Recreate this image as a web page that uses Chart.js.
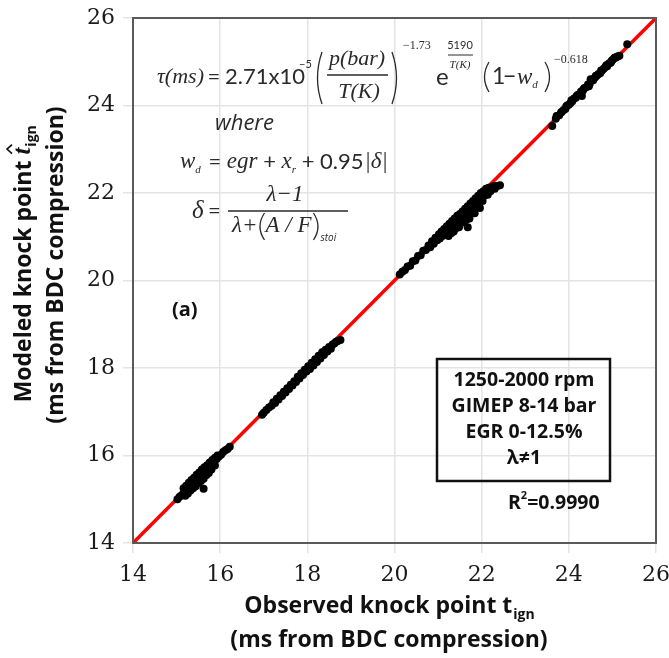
<!DOCTYPE html>
<html>
<head>
<meta charset="utf-8">
<script src="https://cdn.jsdelivr.net/npm/chart.js@4/dist/chart.umd.min.js"></script>
<style>
  body { margin: 0; background: #fff; }
  canvas { display: block; }
</style>
</head>
<body>
<canvas id="myChart" width="669" height="658"></canvas>
<script>
// axis ticks
const tickVals = [14, 16, 18, 20, 22, 24, 26];

// 1:1 reference line
const lineX = [14, 26];
const lineY = [14, 26];

// observed / modeled knock point, one pair of arrays per group of runs
const obsA = [15.02,15.07,15.12,15.17,15.22,15.27,15.32,15.37,15.42,15.47,15.52,15.57,15.62,
              15.67,15.72,15.77,15.82,15.87,15.92,15.97,16.02,16.07,16.12,16.17,16.22,
              15.16,15.22,15.28,15.34,15.40,15.46,15.52,15.58,15.64,15.70,15.76,15.82,15.88,15.94,
              15.20,15.26,15.32,15.38,15.44,15.50,15.56,15.62,15.68,15.74,15.80,15.88,
              15.62];
const modA = [15.00,15.06,15.10,15.16,15.22,15.26,15.33,15.36,15.42,15.46,15.53,15.56,15.61,
              15.68,15.71,15.78,15.81,15.88,15.92,15.98,16.02,16.08,16.12,16.15,16.20,
              15.25,15.31,15.38,15.44,15.49,15.56,15.61,15.68,15.73,15.78,15.84,15.90,15.95,16.00,
              15.08,15.13,15.20,15.25,15.30,15.37,15.42,15.47,15.55,15.60,15.68,15.77,
              15.24];

const obsB = [16.96,17.00,17.06,17.12,17.18,17.22,17.26,17.30,17.34,17.38,
              17.42,17.46,17.50,17.54,17.58,17.62,17.66,17.70,17.74,17.78,
              17.82,17.86,17.90,17.94,17.98,18.02,18.06,18.10,18.14,18.18,
              18.22,18.26,18.30,18.34,18.38,18.42,18.46,18.50,18.54,18.58,
              18.62,18.66,18.70,18.76];
const modB = [16.93,16.98,17.04,17.10,17.14,17.22,17.20,17.30,17.28,17.38,
              17.36,17.46,17.44,17.54,17.52,17.62,17.60,17.70,17.68,17.80,
              17.76,17.88,17.84,17.96,17.92,18.04,17.98,18.12,18.06,18.20,
              18.14,18.28,18.22,18.36,18.30,18.42,18.38,18.48,18.44,18.54,
              18.56,18.60,18.62,18.64];

const obsC = [20.12,20.18,20.24,20.30,20.36,20.42,20.48,20.54,20.60,20.66,
              20.72,20.78,20.82,20.86,20.90,20.94,20.98,21.02,21.04,21.08,
              21.10,21.14,21.16,21.20,21.22,21.24,21.26,21.28,21.32,21.34,
              21.36,21.38,21.40,21.44,21.46,21.48,21.50,21.52,21.56,21.58,
              21.60,21.62,21.64,21.68,21.68,21.70,21.72,21.74,21.76,21.80,
              21.82,21.84,21.86,21.88,21.92,21.94,21.96,21.98,22.00,22.04,
              22.06,22.10,22.12,22.16,22.20,22.24,22.30,22.36,22.42,
              21.20,21.26,21.32,21.38,21.44,21.50,21.56,21.62,21.68,21.74,
              21.80,21.86,21.92,21.98,22.04,22.10,22.16,22.22,22.28,
              21.30,21.42,21.54,21.66,21.78,21.90,22.02,22.14];
const modC = [20.14,20.20,20.24,20.32,20.34,20.44,20.46,20.56,20.58,20.68,
              20.70,20.80,20.76,20.90,20.84,20.98,20.92,21.06,20.96,21.12,
              21.02,21.18,21.06,21.24,21.12,21.02,21.30,21.18,21.36,21.22,
              21.12,21.42,21.30,21.48,21.34,21.22,21.52,21.42,21.58,21.46,
              21.34,21.64,21.52,21.70,21.22,21.58,21.42,21.76,21.64,21.82,
              21.70,21.54,21.88,21.78,21.94,21.82,21.66,22.00,21.88,22.04,
              21.94,22.10,21.98,22.12,22.04,22.14,22.10,22.16,22.18,
              21.14,21.16,21.26,21.28,21.38,21.40,21.48,21.52,21.60,21.66,
              21.72,21.76,21.84,21.90,21.96,22.02,22.06,22.12,22.16,
              21.08,21.20,21.32,21.40,21.56,21.70,21.82,21.96];

const obsD = [23.62,23.70,23.74,23.78,23.84,23.88,23.92,23.96,24.00,24.04,
              24.08,24.12,24.16,24.20,24.24,24.28,24.30,24.32,24.36,24.40,
              24.44,24.48,24.50,24.52,24.56,24.60,24.64,24.68,24.72,24.76,
              24.80,24.84,24.88,24.92,24.96,25.00,25.04,25.08,25.12,25.16,
              23.72,23.82,23.94,24.06,24.18,24.34,24.46,24.62,24.74,24.86,
              24.98,25.06,25.34];
const modD = [23.53,23.70,23.76,23.78,23.86,23.90,23.92,24.00,24.02,24.06,
              24.10,24.16,24.18,24.24,24.26,24.32,24.22,24.34,24.40,24.42,
              24.48,24.50,24.60,24.58,24.58,24.64,24.68,24.72,24.74,24.80,
              24.84,24.88,24.90,24.96,24.98,25.04,25.08,25.10,25.12,25.14,
              23.76,23.84,23.98,24.12,24.22,24.38,24.44,24.68,24.80,24.92,
              25.02,25.10,25.40];

function pairs(xs, ys){
    var out = [];
    for(var i = 0; i < xs.length; i++){
        out.push({x: xs[i], y: ys[i]});
    }
    return out;
}

const points = pairs(obsA, modA).concat(pairs(obsB, modB), pairs(obsC, modC), pairs(obsD, modD));

// small text helper, returns the x where the text ends
function txt(ctx, s, x, y, font, align){
    ctx.font = font;
    ctx.textAlign = align || 'left';
    ctx.textBaseline = 'middle';
    ctx.fillText(s, x, y);
    if(align === 'center') return x + ctx.measureText(s).width / 2;
    if(align === 'right') return x;
    return x + ctx.measureText(s).width;
}

function paren(ctx, x, top, bot, left){
    var mid = (top + bot) / 2;
    ctx.beginPath();
    if(left){
        ctx.moveTo(x + 5, top);
        ctx.quadraticCurveTo(x - 4, mid, x + 5, bot);
    }else{
        ctx.moveTo(x - 5, top);
        ctx.quadraticCurveTo(x + 4, mid, x - 5, bot);
    }
    ctx.stroke();
}

const SANS = '"Open Sans", sans-serif';
const NUM = 'Lato, sans-serif';
const SERIF = '"Liberation Serif", serif';

const decorPlugin = {
    id: 'decor',
    afterDraw(chart){
        const ctx = chart.ctx;
        const a = chart.chartArea;
        ctx.save();

        // frame around plot
        ctx.strokeStyle = '#5a5a5a';
        ctx.lineWidth = 2;
        ctx.strokeRect(a.left, a.top, a.right - a.left, a.bottom - a.top);

        // x axis title
        ctx.fillStyle = '#111';
        var tf = '700 23px ' + SANS;
        var sf = '700 14px ' + SANS;
        var cx = 389;
        ctx.font = tf;
        var w1 = ctx.measureText('Observed knock point t').width;
        ctx.font = sf;
        var w2 = ctx.measureText('ign').width;
        var x0 = cx - (w1 + w2) / 2;
        var e = txt(ctx, 'Observed knock point t', x0, 606, tf);
        txt(ctx, 'ign', e + 1, 615, sf);
        txt(ctx, '(ms from BDC compression)', cx, 640, tf, 'center');

        // y axis title (rotated)
        ctx.save();
        ctx.translate(24, 265);
        ctx.rotate(-Math.PI / 2);
        ctx.font = tf;
        w1 = ctx.measureText('Modeled knock point ').width;
        ctx.font = 'bold italic 25px ' + SERIF;
        var wt = ctx.measureText('t').width;
        x0 = -(w1 + wt + 20) / 2;
        e = txt(ctx, 'Modeled knock point ', x0, 0, tf);
        txt(ctx, 't', e, 0, 'bold italic 25px ' + SERIF);
        // hat over t
        ctx.strokeStyle = '#111';
        ctx.lineWidth = 1.6;
        ctx.beginPath();
        ctx.moveTo(e + 1, -12);
        ctx.lineTo(e + 5.5, -17);
        ctx.lineTo(e + 10, -12);
        ctx.stroke();
        txt(ctx, 'ign', e + wt + 1, 8, sf);
        ctx.restore();
        ctx.save();
        ctx.translate(56, 265);
        ctx.rotate(-Math.PI / 2);
        txt(ctx, '(ms from BDC compression)', 0, 0, tf, 'center');
        ctx.restore();

        // ignition delay correlation
        ctx.fillStyle = '#2a2a2a';
        ctx.strokeStyle = '#2a2a2a';
        ctx.lineWidth = 1.3;
        var y = 77;
        txt(ctx, '\u03c4(ms)', 157, y, 'italic 22px ' + SERIF);
        txt(ctx, '=', 214, y, '22px ' + NUM, 'center');
        txt(ctx, '2.71x10', 225, y, '22px ' + NUM);
        txt(ctx, '\u22125', 299, 64, '11px ' + NUM);
        paren(ctx, 317, 52, 104, true);
        txt(ctx, 'p(bar)', 357, 59, 'italic 22px ' + SERIF, 'center');
        ctx.beginPath(); ctx.moveTo(327, 75); ctx.lineTo(388, 75); ctx.stroke();
        txt(ctx, 'T(K)', 359, 92, 'italic 22px ' + SERIF, 'center');
        paren(ctx, 397, 52, 104, false);
        txt(ctx, '\u22121.73', 403, 46, '12px ' + SERIF);
        txt(ctx, 'e', 436, 77, '24px ' + NUM);
        txt(ctx, '5190', 460, 45, '11px ' + NUM, 'center');
        ctx.lineWidth = 1;
        ctx.beginPath(); ctx.moveTo(448, 55); ctx.lineTo(473, 55); ctx.stroke();
        txt(ctx, 'T(K)', 460, 65, 'italic 11px ' + SERIF, 'center');
        ctx.lineWidth = 1.3;
        paren(ctx, 484, 62, 92, true);
        txt(ctx, '1', 492, 77, '23px ' + NUM);
        txt(ctx, '\u2212', 503, 77, '23px ' + NUM);
        e = txt(ctx, 'w', 517, 78, 'italic 23px ' + SERIF);
        txt(ctx, 'd', e, 85, 'italic 11px ' + SERIF);
        paren(ctx, 550, 62, 92, false);
        txt(ctx, '\u22120.618', 554, 60, '12px ' + SERIF);

        txt(ctx, 'where', 215, 124, 'italic 22px ' + SANS);

        y = 162;
        e = txt(ctx, 'w', 180, y, 'italic 23px ' + SERIF);
        e = txt(ctx, 'd', e, y + 8, 'italic 11px ' + SERIF);
        e = txt(ctx, ' = ', e + 2, y, '22px ' + NUM);
        e = txt(ctx, 'egr', e, y, 'italic 23px ' + SERIF);
        e = txt(ctx, ' + ', e, y, '22px ' + NUM);
        e = txt(ctx, 'x', e, y, 'italic 23px ' + SERIF);
        e = txt(ctx, 'r', e, y + 8, 'italic 11px ' + SERIF);
        e = txt(ctx, ' + 0.95', e, y, '22px ' + NUM);
        e = txt(ctx, '|\u03b4|', e + 1, y, 'italic 23px ' + SERIF);

        txt(ctx, '\u03b4', 192, 211, 'italic 25px ' + SERIF);
        txt(ctx, '=', 208, 211, '22px ' + NUM);
        txt(ctx, '\u03bb\u22121', 285, 195, 'italic 23px ' + SERIF, 'center');
        ctx.beginPath(); ctx.moveTo(228, 211); ctx.lineTo(348, 211); ctx.stroke();
        e = txt(ctx, '\u03bb+', 232, 226, 'italic 23px ' + SERIF);
        paren(ctx, e + 2, 213, 240, true);
        e = txt(ctx, 'A / F', e + 8, 226, 'italic 23px ' + SERIF);
        paren(ctx, e + 7, 213, 240, false);
        txt(ctx, 'stoi', e + 9, 238, 'italic 10px ' + SANS);

        // panel tag
        ctx.fillStyle = '#111';
        txt(ctx, '(a)', 172, 310, 'bold 20px ' + SANS);

        // conditions box
        ctx.strokeStyle = '#111';
        ctx.lineWidth = 2.5;
        ctx.strokeRect(437, 359, 173, 122);
        var bf = '700 19.5px ' + SANS;
        txt(ctx, '1250-2000 rpm', 524, 380, bf, 'center');
        txt(ctx, 'GIMEP 8-14 bar', 524, 406, bf, 'center');
        txt(ctx, 'EGR 0-12.5%', 524, 432, bf, 'center');
        txt(ctx, '\u03bb\u22601', 524, 458, bf, 'center');

        e = txt(ctx, 'R', 508, 503, bf);
        e = txt(ctx, '2', e, 496, '700 11px ' + SANS);
        txt(ctx, '=0.9990', e, 503, bf);

        ctx.restore();
    }
};

const can = document.getElementById('myChart');

const data = {
    datasets: [{
        type: 'scatter',
        label: 'runs',
        data: points,
        backgroundColor: '#000',
        borderWidth: 0,
        pointRadius: 4,
        order: 1
    }, {
        type: 'line',
        label: '1:1',
        data: pairs(lineX, lineY),
        borderColor: '#ff0000',
        borderWidth: 3.5,
        pointRadius: 0,
        fill: false,
        order: 2
    }]
};

const gridStyle = {
    color: '#e4e4e4',
    lineWidth: 1.5,
    tickLength: 10
};
const tickFont = { family: '"DejaVu Serif", serif', size: 22 };

function setTicks(s){
    s.ticks = tickVals.map(function(v){ return {value: v}; });
}

const config = {
    type: 'scatter',
    data: data,
    options: {
        responsive: false,
        maintainAspectRatio: false,
        animation: false,
        devicePixelRatio: 1,
        layout: { padding: { top: 18, right: 13, left: 0, bottom: 0 } },
        plugins: {
            legend: { display: false },
            tooltip: { enabled: false }
        },
        scales: {
            x: {
                type: 'linear', position: 'bottom', min: 14, max: 26,
                afterBuildTicks: setTicks,
                grid: gridStyle,
                border: { color: '#5a5a5a', width: 2 },
                ticks: { color: '#1a1a1a', padding: 9, font: tickFont },
                afterFit: function(s){
                    s.height = 115;
                    s.paddingLeft = 0;
                    s.paddingRight = 0;
                }
            },
            y: {
                type: 'linear', position: 'left', min: 14, max: 26,
                afterBuildTicks: setTicks,
                grid: gridStyle,
                border: { color: '#5a5a5a', width: 2 },
                ticks: { color: '#1a1a1a', padding: 8, font: tickFont },
                afterFit: function(s){
                    s.width = 133;
                    s.paddingTop = 0;
                    s.paddingBottom = 0;
                }
            }
        }
    },
    plugins: [decorPlugin]
};

new Chart(can, config);
</script>
</body>
</html>
